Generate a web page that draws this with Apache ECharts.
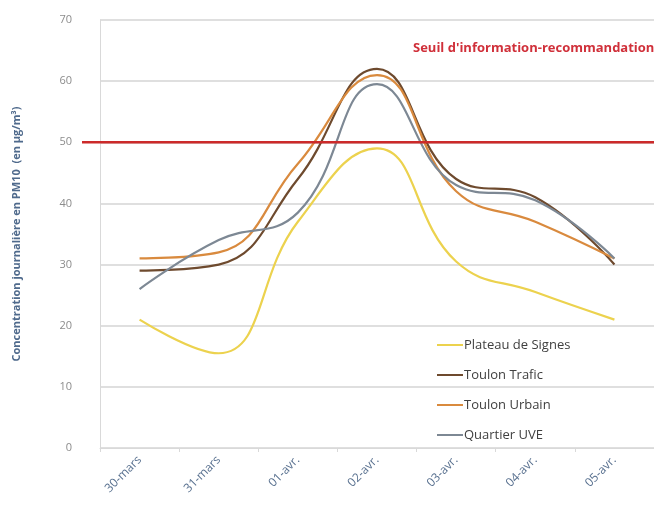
<!DOCTYPE html>
<html><head><meta charset="utf-8">
<script src="https://cdn.jsdelivr.net/npm/echarts@6/dist/echarts.min.js"></script>
<style>html,body{margin:0;padding:0;background:#fff}#c{width:654px;height:515px}</style>
</head><body><div id="c"></div>
<script>
const categories = ['30-mars','31-mars','01-avr.','02-avr.','03-avr.','04-avr.','05-avr.'];
const plateauSignes = [21, 15.5, 37, 49, 30.5, 25.5, 21];
const toulonTrafic = [29, 30, 44, 62, 44, 41, 30];
const toulonUrbain = [31, 32, 46.5, 61, 42, 37, 31];
const quartierUVE = [26, 34, 38.5, 59.5, 43, 40.5, 31];
const seriesNames = ['Plateau de Signes','Toulon Trafic','Toulon Urbain','Quartier UVE'];
const seriesColors = ['#ecd24e','#6e4a2e','#d98a3e','#7d8894'];
const thresholdValue = [50];
const thresholdLabel = "Seuil d'information-recommandation";
const yTicks = [0,10,20,30,40,50,60,70];

const chart = echarts.init(document.getElementById('c'));
const dataSets = [plateauSignes, toulonTrafic, toulonUrbain, quartierUVE];
const font = '"Open Sans", "Noto Sans", sans-serif';
chart.setOption({
  animation:false,
  grid:{left:100, top:20, width:560, height:428, containLabel:false},
  legend:{
    orient:'vertical', left:432, top:331, itemGap:12, itemWidth:26, itemHeight:2,
    data: seriesNames.map(n=>({name:n, icon:'rect'})),
    textStyle:{fontFamily:font, fontSize:13, color:'#404040', padding:[0,0,0,-4], lineHeight:18}
  },
  xAxis:{
    type:'category', data:categories, boundaryGap:true,
    axisLine:{lineStyle:{color:'#d9d9d9'}},
    axisTick:{show:true, lineStyle:{color:'#d9d9d9'}, length:4},
    axisLabel:{rotate:45, color:'#58708f', fontFamily:font, fontSize:12, margin:10}
  },
  yAxis:{
    type:'value', min:yTicks[0], max:yTicks[yTicks.length-1], interval:10,
    name:'Concentration journalière en PM10  (en µg/m³)', nameLocation:'middle', nameGap:78,
    nameTextStyle:{color:'#4f6a8c', fontFamily:font, fontSize:11, fontWeight:'bold'},
    axisLine:{show:true, lineStyle:{color:'#d9d9d9'}},
    axisTick:{show:false},
    axisLabel:{color:'#8c8c8c', fontFamily:font, fontSize:11, margin:28},
    splitLine:{lineStyle:{color:'#d4d4d4', width:1.5}}
  },
  series: dataSets.map((d,i)=>({
    name:seriesNames[i], type:'line', data:d, smooth:0.45, symbol:'none',
    lineStyle:{color:seriesColors[i], width:2.2}, itemStyle:{color:seriesColors[i]}, z:3
  }))
});
const yPix = chart.convertToPixel({yAxisIndex:0}, thresholdValue[0]);
chart.setOption({
  graphic:[
    {type:'line', shape:{x1:82, y1:yPix, x2:654, y2:yPix}, style:{stroke:'#cc2a2a', lineWidth:2.5}, z:10},
    {type:'text', left:413, top:yPix-100, style:{text:thresholdLabel, fill:'#d0303a', font:'bold 13px '+font}, z:10}
  ]
});
</script></body></html>
